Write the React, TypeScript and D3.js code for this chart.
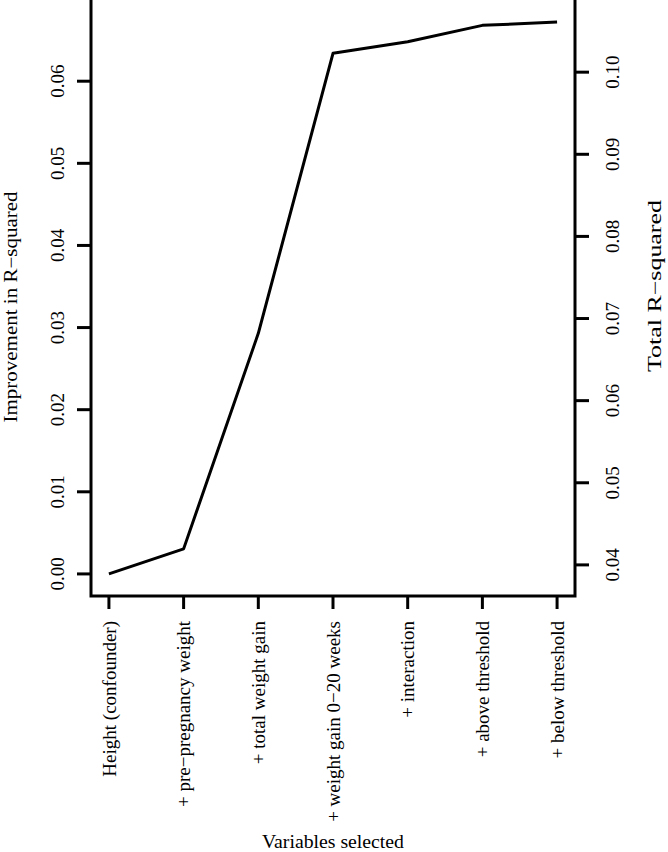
import * as d3 from 'd3';
import React, { useEffect, useRef } from 'react';

const categories: string[] = [
  'Height (confounder)',
  '+ pre\u2212pregnancy weight',
  '+ total weight gain',
  '+ weight gain 0\u221220 weeks',
  '+ interaction',
  '+ above threshold',
  '+ below threshold',
];
const improvement: number[] = [0.0, 0.00305, 0.0293, 0.0634, 0.0648, 0.0668, 0.0672];
// total R-squared = improvement + baseline of the first model
const baseline = 0.0389;
const leftTicks: number[] = [0.0, 0.01, 0.02, 0.03, 0.04, 0.05, 0.06];
const rightTicks: number[] = [0.04, 0.05, 0.06, 0.07, 0.08, 0.09, 0.1];

const width = 668;
const height = 852;
const plot = { left: 91, right: 575, top: 0, bottom: 596 };
const font = "'Liberation Serif', 'Times New Roman', serif";
const fs = 19;

const App: React.FC = () => {
  const ref = useRef<SVGSVGElement>(null);
  useEffect(() => {
    const svg = d3.select(ref.current);
    svg.selectAll('*').remove();

    // R style 4% padding on both scales
    const n = categories.length;
    const xPad = 0.04 * (n - 1);
    const x = d3.scaleLinear().domain([1 - xPad, n + xPad]).range([plot.left, plot.right]);
    const yMax = d3.max(improvement) || 0;
    const yMin = d3.min(improvement) || 0;
    const yPad = 0.04 * (yMax - yMin);
    const y = d3.scaleLinear().domain([yMin - yPad, yMax + yPad]).range([plot.bottom, plot.top]);
    const y2 = d3
      .scaleLinear()
      .domain([yMin - yPad + baseline, yMax + yPad + baseline])
      .range([plot.bottom, plot.top]);

    const g = svg.append('g').attr('font-family', font).attr('font-size', fs).attr('fill', '#000');

    // box (top sits just off the image)
    g.append('rect')
      .attr('x', plot.left)
      .attr('y', plot.top - 3)
      .attr('width', plot.right - plot.left)
      .attr('height', plot.bottom - plot.top + 3)
      .attr('fill', 'none')
      .attr('stroke', '#000')
      .attr('stroke-width', 3);

    // left axis
    const left = g.append('g');
    left
      .selectAll('line')
      .data(leftTicks)
      .join('line')
      .attr('x1', plot.left - 14)
      .attr('x2', plot.left)
      .attr('y1', (d) => y(d))
      .attr('y2', (d) => y(d))
      .attr('stroke', '#000')
      .attr('stroke-width', 3);
    left
      .selectAll('text')
      .data(leftTicks)
      .join('text')
      .attr('transform', (d) => `translate(57,${y(d)}) rotate(-90)`)
      .attr('text-anchor', 'middle')
      .attr('dy', '0.35em')
      .text((d) => d3.format('.2f')(d));

    // right axis
    const right = g.append('g');
    right
      .selectAll('line')
      .data(rightTicks)
      .join('line')
      .attr('x1', plot.right)
      .attr('x2', plot.right + 14)
      .attr('y1', (d) => y2(d))
      .attr('y2', (d) => y2(d))
      .attr('stroke', '#000')
      .attr('stroke-width', 3);
    right
      .selectAll('text')
      .data(rightTicks)
      .join('text')
      .attr('transform', (d) => `translate(612,${y2(d)}) rotate(-90)`)
      .attr('text-anchor', 'middle')
      .attr('dy', '0.35em')
      .text((d) => d3.format('.2f')(d));

    // bottom axis
    const bottom = g.append('g');
    bottom
      .selectAll('line')
      .data(categories)
      .join('line')
      .attr('x1', (_, i) => x(i + 1))
      .attr('x2', (_, i) => x(i + 1))
      .attr('y1', plot.bottom)
      .attr('y2', plot.bottom + 13)
      .attr('stroke', '#000')
      .attr('stroke-width', 3);
    bottom
      .selectAll('text')
      .data(categories)
      .join('text')
      .attr('transform', (_, i) => `translate(${x(i + 1)},621) rotate(-90)`)
      .attr('text-anchor', 'end')
      .attr('dy', '0.35em')
      .text((d) => d);

    // axis titles (the source font is wider than Times, so stretch a bit)
    g.append('text')
      .attr('transform', `translate(11,307) rotate(-90)`)
      .attr('text-anchor', 'middle')
      .attr('dy', '0.35em')
      .attr('font-size', 18)
      .attr('textLength', 231)
      .attr('lengthAdjust', 'spacingAndGlyphs')
      .text('Improvement in R\u2212squared');
    g.append('text')
      .attr('transform', `translate(655,286) rotate(-90)`)
      .attr('text-anchor', 'middle')
      .attr('dy', '0.35em')
      .attr('font-size', 18)
      .attr('textLength', 172)
      .attr('lengthAdjust', 'spacingAndGlyphs')
      .text('Total R\u2212squared');
    g.append('text')
      .attr('x', (plot.left + plot.right) / 2)
      .attr('y', 848)
      .attr('text-anchor', 'middle')
      .attr('textLength', 142)
      .attr('lengthAdjust', 'spacingAndGlyphs')
      .text('Variables selected');

    const line = d3
      .line<number>()
      .x((_, i) => x(i + 1))
      .y((d) => y(d));
    g.append('path')
      .datum(improvement)
      .attr('fill', 'none')
      .attr('stroke', '#000')
      .attr('stroke-width', 3)
      .attr('stroke-linejoin', 'round')
      .attr('d', line);
  }, []);
  return (
    <svg
      ref={ref}
      width={width}
      height={height}
      style={{ position: 'absolute', left: 0, top: 0, background: '#fff' }}
    ></svg>
  );
};

export default App;
